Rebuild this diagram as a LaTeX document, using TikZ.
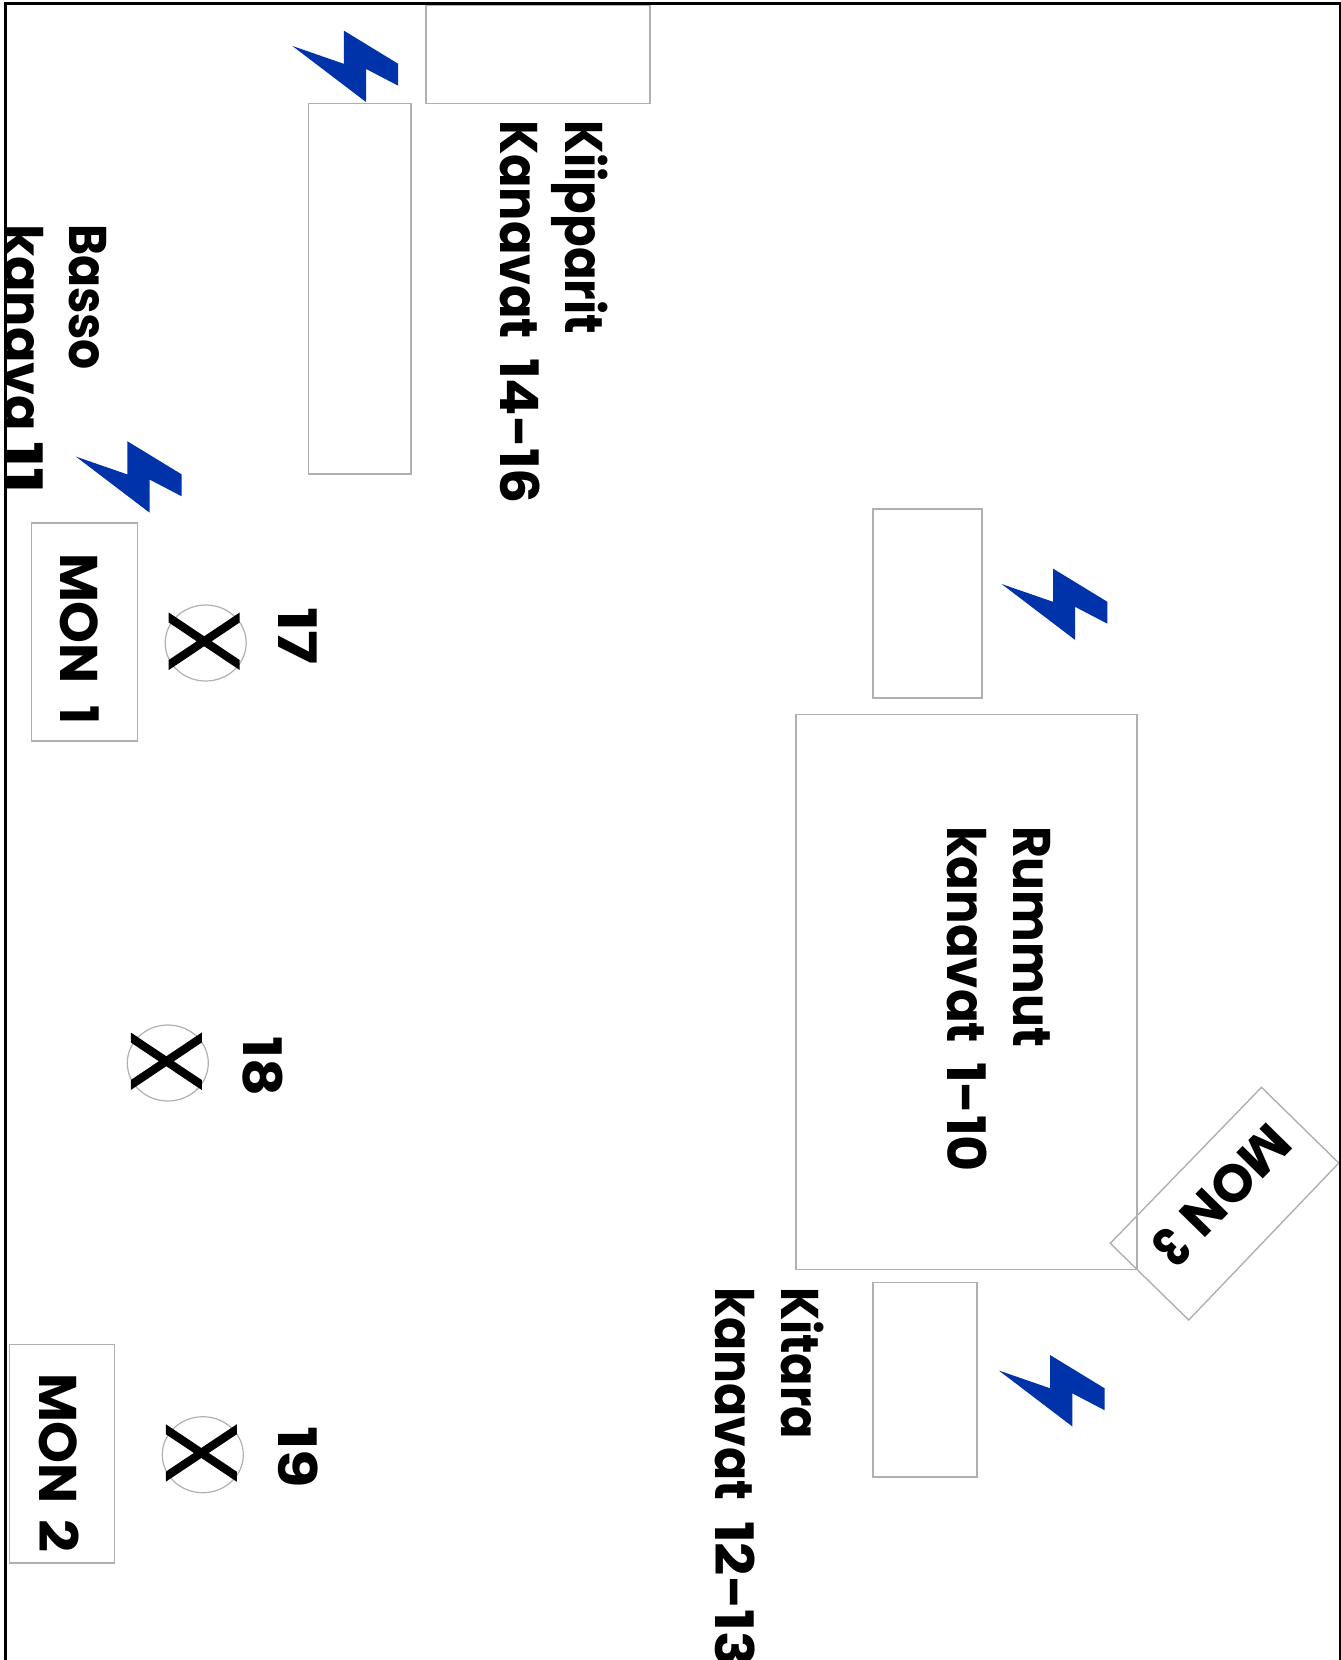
\documentclass[tikz,border=0pt]{standalone}
\usepackage{graphicx}
\usepackage{fontspec}
\setmainfont{Poppins}
\usetikzlibrary{shapes.geometric}
\definecolor{boltblue}{RGB}{0,51,170}
\definecolor{boxgray}{RGB}{176,176,176}
% \lbl{name}{x baseline}{y start}{length}{text}
\newcommand{\lbl}[5]{\node[lbltext] (#1) at (#2,#3) {\resizebox{#4pt}{\height}{\bfseries #5}};}
% two-part label: \wpart{len}{word}\hspace{gap}\wpart{len}{word}
\newcommand{\wpart}[2]{\resizebox{#1pt}{\height}{\bfseries #2}}
\newcommand{\bolt}[3]{\fill[boltblue,shift={(#2,#3)}] (0,0) -- (51.4,17.8) -- (51.4,-15.4) -- (105.8,17.8) -- (105.8,39.7) -- (73.6,22.9) -- (73.6,56) -- cycle;\coordinate (#1) at (#2,#3);}
\newcommand{\lamp}[3]{\node[lampcircle] (#1) at (#2,#3) {};
  \fill[shift={(#2,#3)}] (-37,-30.5) -- (34,17) -- (34,27) -- (-37,-20.5) -- cycle;
  \fill[shift={(#2,#3)}] (-37,17) -- (34,-30.5) -- (34,-20.5) -- (-37,27) -- cycle;}
\tikzset{
  plainbox/.style={draw=boxgray,line width=1.4pt},
  lbltext/.style={rotate=-90,anchor=base west,inner sep=0pt,outer sep=0pt,font=\fontsize{53pt}{58pt}\selectfont,text=black},
  lampcircle/.style={draw=boxgray,line width=1.2pt,ellipse,minimum width=81pt,minimum height=76pt,inner sep=0pt},
}
\begin{document}
\begin{tikzpicture}[x=1pt,y=-1pt]
\useasboundingbox (0,0) rectangle (1341,1660);
\fill[white] (0,0) rectangle (1341,1660);
% boxes
\draw[plainbox] (426,5) rectangle (650,103.6);
\draw[plainbox] (308.5,103.6) rectangle (411,474);
\draw[plainbox] (31.7,523) rectangle (137.5,741);
\draw[plainbox] (9.5,1344.5) rectangle (114.6,1563);
\draw[plainbox] (873,509) rectangle (982,698);
\draw[plainbox] (796,714.6) rectangle (1137,1269.7);
\draw[plainbox] (873,1282.4) rectangle (977,1477);
\draw[plainbox] (1261.5,1087.3) -- (1338.8,1163) -- (1188.7,1320) -- (1110.3,1243.3) -- cycle;
% bolts
\bolt{b1}{292.4}{46}
\bolt{b2}{75.9}{456.6}
\bolt{b3}{1001.6}{584}
\bolt{b4}{998.8}{1370.5}
% lamps
\lamp{l17}{205.7}{643}
\lamp{l18}{167.8}{1063}
\lamp{l19}{202.8}{1454.7}
% labels
\lbl{t1}{565}{120}{214}{Kiipparit}
\node[lbltext] (t2) at (500,120) {\wpart{219}{Kanavat}\hspace{19pt}\wpart{146}{14-16}};
\lbl{t3}{69.5}{224}{146}{Basso}
\node[lbltext] (t4) at (4.5,224) {\wpart{207}{kanava}\hspace{10pt}\wpart{53}{11}};
\node[lbltext] (t5) at (60,553) {\wpart{131}{MON}\hspace{21pt}\wpart{19}{1}};
\lbl{t6}{278}{607}{58}{17}
\lbl{t7}{243}{1036}{60}{18}
\lbl{t8}{278}{1426}{62}{19}
\node[lbltext] (t9) at (39,1373) {\wpart{131}{MON}\hspace{15pt}\wpart{33}{2}};
\lbl{t10}{1013}{826}{221}{Rummut}
\node[lbltext] (t11) at (947,826) {\wpart{217}{kanavat}\hspace{19pt}\wpart{110}{1-10}};
\lbl{t12}{781}{1287}{152}{Kitara}
\node[lbltext] (t13) at (715,1287) {\wpart{213}{kanavat}\hspace{21pt}\wpart{146}{12-13}};
\node[lbltext,rotate=-44.5,anchor=center] (t14) at (1221.9,1196) {\wpart{130}{MON}\hspace{14pt}\wpart{28}{3}};
% frame
\fill[white] (0,0) rectangle (4,1660);
\draw[black,line width=2.7pt] (5.3,1660) -- (5.3,3.7) -- (1340,3.7) -- (1340,1660);
\end{tikzpicture}
\end{document}
